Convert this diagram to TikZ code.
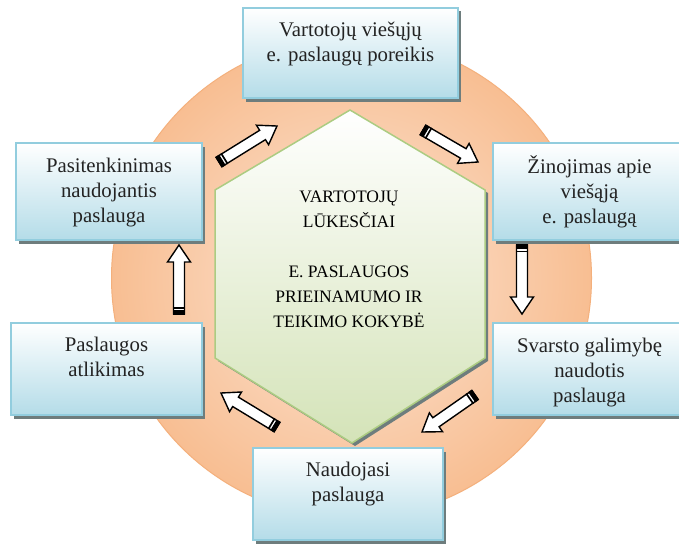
\documentclass[tikz,border=0pt]{standalone}
\usepackage{fontspec}
\setmainfont{Liberation Serif}
\usetikzlibrary{calc,shadows}
\definecolor{boxborder}{RGB}{146,205,222}
\definecolor{boxbottom}{RGB}{180,220,232}
\definecolor{hexgreen}{RGB}{172,204,130}
\definecolor{hexbottom}{RGB}{212,227,184}
\definecolor{circin}{RGB}{252,230,215}
\definecolor{circout}{RGB}{248,190,146}
\definecolor{circedge}{RGB}{244,176,124}
\definecolor{shadowgray}{RGB}{110,125,125}
\definecolor{txt}{RGB}{35,35,35}
\tikzset{
  ebox/.style={draw=boxborder, line width=2.5pt, top color=white, bottom color=boxbottom,
    inner sep=0pt, drop shadow={shadow xshift=3pt, shadow yshift=-3.5pt, fill=shadowgray, opacity=1}},
  btext/.style={font=\fontsize{20.8}{25}\selectfont, align=center, text=txt, inner sep=0pt, anchor=base},
  hextext/.style={font=\fontsize{17.5}{25}\selectfont, align=center, text=black, inner sep=0pt, anchor=base},
  arrowbody/.style={draw=black, fill=white, line width=1.4pt, line join=miter},
}
\newcommand\blockarrow[2]{%
  \path let \p1=($(#2)-(#1)$) in \pgfextra{\pgfmathsetmacro\baang{atan2(\y1,\x1)}\pgfmathsetmacro\balen{veclen(\x1,\y1)}\global\let\baang\baang\global\let\balen\balen};
  \begin{scope}[shift={(#1)}, rotate=\baang, x=1pt, y=1pt]
    \draw[arrowbody] (0,-5.5) -- (\balen-17,-5.5) -- (\balen-17,-11.5) -- (\balen,0) -- (\balen-17,11.5) -- (\balen-17,5.5) -- (0,5.5) -- cycle;
    \fill[black] (-0.7,-6.2) rectangle (4,6.2);
    \fill[black] (5.5,-6.2) rectangle (7.2,6.2);
  \end{scope}}
\begin{document}
\begin{tikzpicture}[x=1pt, y=-1pt]
\useasboundingbox[fill=white] (0,0) rectangle (679,543);
% circle
\path[draw=circedge, line width=1pt, inner color=circin, outer color=circout] (351.5,278) circle[radius=240pt];
% hexagon
\fill[shadowgray] (353,113) -- (488,193) -- (488,361) -- (355,446) -- (218,361) -- (218,193) -- cycle;
\draw[hexgreen, line width=1.5pt, top color=white, bottom color=hexbottom]
  (350,110) -- (485,190) -- (485,358) -- (352,443) -- (215,358) -- (215,190) -- cycle;
\node[hextext] (core) at (349,327) {VARTOTOJŲ\\LŪKESČIAI\\[25pt]E. PASLAUGOS\\PRIEINAMUMO IR\\TEIKIMO KOKYBĖ};
% boxes
\node[ebox, minimum width=215pt, minimum height=90pt] (b1) at (350.5,53) {};
\node[ebox, minimum width=193pt, minimum height=97pt] (b2) at (589.5,191.5) {};
\node[ebox, minimum width=193pt, minimum height=92pt] (b3) at (589.5,369) {};
\node[ebox, minimum width=190pt, minimum height=92pt] (b4) at (348,494) {};
\node[ebox, minimum width=191pt, minimum height=92pt] (b5) at (106.5,369) {};
\node[ebox, minimum width=186pt, minimum height=97pt] (b6) at (109,191.5) {};
\node[btext] (t1) at ($(b1.north)+(0,55)$) {Vartotojų viešųjų\\e. paslaugų poreikis};
\node[btext] (t2) at ($(b2.north)+(0,82)$) {Žinojimas apie\\viešąją\\e. paslaugą};
\node[btext] (t3) at ($(b3.north)+(0,81)$) {Svarsto galimybę\\naudotis\\paslauga};
\node[btext] (t4) at ($(b4.north)+(0,55)$) {Naudojasi\\paslauga};
\node[btext] (t5) at ($(b5.north)+(0,55)$) {Paslaugos\\atlikimas};
\node[btext] (t6) at ($(b6.north)+(0,81)$) {Pasitenkinimas\\naudojantis\\paslauga};
% arrow ends
\coordinate (a1t) at (219,162); \coordinate (a1h) at (277,126);
\coordinate (a2t) at (423,130); \coordinate (a2h) at (478,162);
\coordinate (a3t) at (522,245); \coordinate (a3h) at (522,314);
\coordinate (a4t) at (475,395); \coordinate (a4h) at (422,432);
\coordinate (a5t) at (277,427); \coordinate (a5h) at (221,393);
\coordinate (a6t) at (179,314); \coordinate (a6h) at (179,245);
\blockarrow{a1t}{a1h}
\blockarrow{a2t}{a2h}
\blockarrow{a3t}{a3h}
\blockarrow{a4t}{a4h}
\blockarrow{a5t}{a5h}
\blockarrow{a6t}{a6h}
\end{tikzpicture}
\end{document}
